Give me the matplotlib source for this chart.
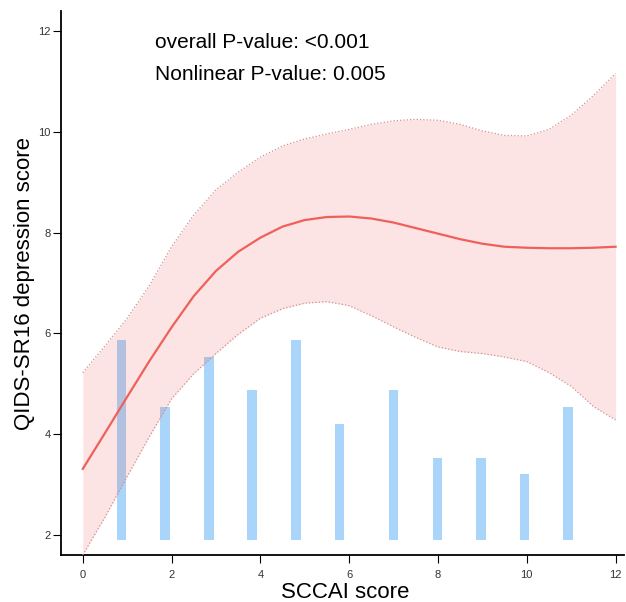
import numpy as np
import matplotlib.pyplot as plt

plt.rcParams['font.family'] = ['Liberation Sans', 'DejaVu Sans']

# histogram bars (distribution of SCCAI score, drawn on the y scale)
bar_x = [0.87, 1.86, 2.84, 3.82, 4.80, 5.78, 7.00, 7.99, 8.97, 9.95, 10.93]
bar_top = [5.87, 4.53, 5.53, 4.87, 5.87, 4.20, 4.87, 3.53, 3.53, 3.20, 4.53]
bar_base = 1.9

# restricted cubic spline fit with 95% CI
sccai = [0, 0.5, 1, 1.5, 2, 2.5, 3, 3.5, 4, 4.5, 5, 5.5, 6, 6.5, 7, 7.5, 8,
         8.5, 9, 9.5, 10, 10.5, 11, 11.5, 12]
fit = [3.31, 4.02, 4.74, 5.45, 6.12, 6.74, 7.24, 7.62, 7.90, 8.12, 8.25, 8.31,
       8.32, 8.28, 8.20, 8.09, 7.98, 7.87, 7.78, 7.72, 7.70, 7.69, 7.69, 7.70, 7.72]
upper = [5.22, 5.75, 6.30, 6.95, 7.72, 8.35, 8.85, 9.20, 9.50, 9.72, 9.86, 9.96,
         10.05, 10.15, 10.22, 10.25, 10.23, 10.15, 10.02, 9.93, 9.92, 10.05, 10.33,
         10.72, 11.16]
lower = [1.60, 2.35, 3.16, 3.95, 4.70, 5.20, 5.60, 5.98, 6.30, 6.49, 6.60, 6.63,
         6.55, 6.35, 6.13, 5.92, 5.73, 5.64, 5.60, 5.53, 5.44, 5.22, 4.95, 4.55, 4.28]

fig = plt.figure(figsize=(6.26, 6.02), dpi=100)
ax = fig.add_axes([61 / 626, 1 - 555 / 602, 563 / 626, 544 / 602])

heights = np.array(bar_top) - bar_base
ax.bar(bar_x, heights, bottom=bar_base, width=0.22, color='#a9d5fa', zorder=1)

ax.fill_between(sccai, lower, upper, color='#ee5050', alpha=0.15, linewidth=0, zorder=2)
ax.plot(sccai, upper, color='#d09090', linestyle=':', linewidth=0.9, zorder=3)
ax.plot(sccai, lower, color='#d09090', linestyle=':', linewidth=0.9, zorder=3)
ax.plot(sccai, fit, color='#f0605a', linewidth=1.6, zorder=4)

ax.text(1.63, 11.77, 'overall P-value: <0.001', fontsize=15, va='center', ha='left')
ax.text(1.63, 11.13, 'Nonlinear P-value: 0.005', fontsize=15, va='center', ha='left')

ax.set_xlim(-0.49, 12.19)
ax.set_ylim(1.6, 12.4)
ax.set_xticks(range(0, 13, 2))
ax.set_yticks(range(2, 13, 2))
ax.tick_params(labelsize=8, labelcolor='#333333', length=5.5, width=0.8)
ax.tick_params(axis='y', pad=2)
ax.tick_params(axis='x', pad=5)

for side in ['top', 'right']:
    ax.spines[side].set_visible(False)
for side in ['left', 'bottom']:
    ax.spines[side].set_linewidth(1.3)

ax.set_xlabel('SCCAI score', fontsize=16)
ax.xaxis.set_label_coords(0.504, -0.05)
ax.set_ylabel('QIDS-SR16 depression score', fontsize=16, labelpad=2)

fig.savefig('out.png', dpi=100)
